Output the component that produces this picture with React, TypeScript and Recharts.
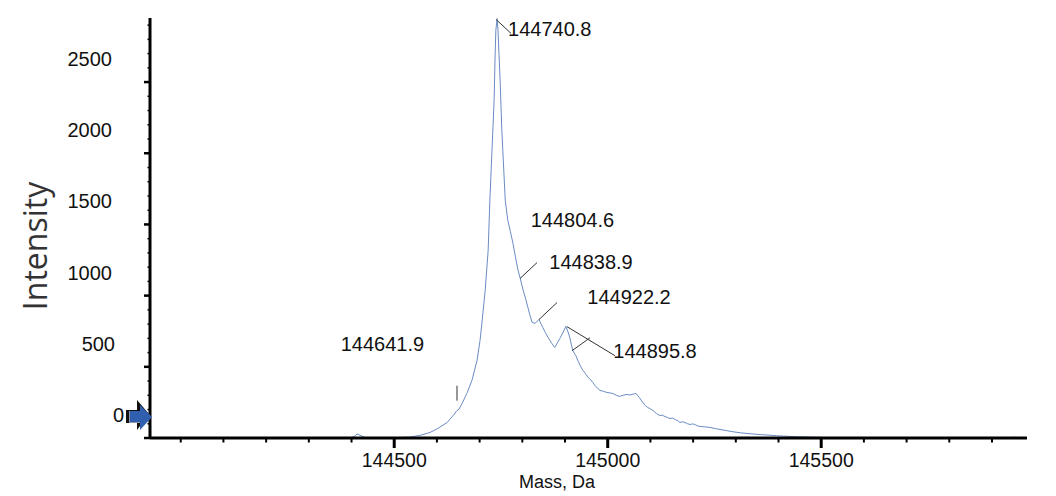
import React from 'react';
import { LineChart, Line, XAxis, YAxis, ReferenceLine, ReferenceDot } from 'recharts';

// deconvoluted spectrum
const massDa = [
  143940, 144396, 144406, 144413, 144422, 144434, 144467, 144502, 144537, 144560,
  144584, 144602, 144624, 144638, 144647, 144652, 144659, 144670, 144682, 144694,
  144701, 144706, 144713, 144720, 144724, 144729, 144734, 144736, 144738, 144741,
  144743, 144748, 144752, 144760, 144766, 144772, 144778, 144784, 144790, 144795,
  144802, 144808, 144813, 144818, 144823, 144830, 144839, 144844, 144848, 144854,
  144860, 144869, 144876, 144882, 144888, 144896, 144902, 144907, 144911, 144918,
  144925, 144930, 144936, 144942, 144948, 144954, 144960, 144965, 144972, 144982,
  144990, 144998, 145006, 145012, 145020, 145028, 145036, 145045, 145052, 145057,
  145062, 145066, 145074, 145082, 145088, 145094, 145100, 145106, 145114, 145122,
  145128, 145134, 145140, 145146, 145152, 145158, 145164, 145169, 145175, 145181,
  145187, 145193, 145199, 145204, 145210, 145216, 145228, 145240, 145252, 145263,
  145278, 145293, 145312, 145333, 145352, 145373, 145395, 145420, 145445, 145467,
  145495, 145525, 145560, 145600, 145700, 145800, 145880, 145910, 145930, 145950,
  145970, 145982,
];
const intensity = [
  0, 0, 10, 28, 17, 0, 0, 2, 7, 18,
  39, 67, 109, 158, 193, 204, 243, 313, 404, 545,
  686, 826, 1037, 1319, 1670, 2022, 2373, 2655, 2865, 2945,
  2865, 2514, 2162, 1670, 1529, 1450, 1368, 1270, 1178, 1122,
  1037, 975, 918, 860, 812, 805, 833, 800, 777, 740,
  707, 665, 636, 668, 700, 745, 784, 745, 707, 615,
  580, 545, 505, 475, 452, 425, 410, 390, 362, 334,
  328, 320, 316, 313, 300, 292, 300, 306, 302, 306,
  310, 313, 285, 250, 228, 214, 205, 193, 172, 158,
  160, 151, 144, 137, 140, 130, 122, 109, 114, 109,
  100, 95, 99, 95, 86, 81, 78, 74, 66, 60,
  52, 44, 36, 30, 25, 21, 16, 12, 9, 7,
  5, 3, 1, 0, 0, 2, 0, 4, 1, 5,
  2, 0,
];

const xTicks = [
  144000, 144100, 144200, 144300, 144400, 144500, 144600, 144700, 144800, 144900,
  145000, 145100, 145200, 145300, 145400, 145500, 145600, 145700, 145800, 145900,
];
const yTicks = [
  0, 100, 200, 300, 400, 500, 600, 700, 800, 900, 1000, 1100, 1200, 1300, 1400,
  1500, 1600, 1700, 1800, 1900, 2000, 2100, 2200, 2300, 2400, 2500, 2600, 2700, 2800, 2900,
];
const yLabels = [0, 500, 1000, 1500, 2000, 2500];
const xLabels = [144500, 145000, 145500];

// peak annotations: text, anchor (mass, intensity) of the text start
const peakText = ['144740.8', '144804.6', '144838.9', '144922.2', '144895.8', '144641.9'];
const peakTextMass = [144766.5, 144819.6, 144863.2, 144952.2, 145013.1, 144374.6];
const peakTextInt = [2824, 1480, 1186, 940, 565, 612];

// leader lines: [mass1, int1, mass2, int2]
const leaders = [
  [144738.4, 2940, 144773.5, 2842],
  [144794.6, 1120, 144834.4, 1232],
  [144839.1, 832, 144881.2, 951],
  [144904.6, 782, 145017.0, 578],
  [144916.3, 613, 144958.5, 704],
  [144647.0, 367, 144647.0, 262],
];

const data = massDa.map((m, i) => ({ mass: m, value: intensity[i] }));

const FONT = '"Liberation Sans", Arial, sans-serif';

const XTick = (props: any) => {
  const { x, y, payload } = props;
  const major = xLabels.includes(payload.value);
  return (
    <g>
      <line x1={x} y1={y} x2={x} y2={y + (major ? 10 : 4.5)} stroke="#000" strokeWidth={major ? 3 : 2} />
      {major && (
        <text x={x} y={y + 29} textAnchor="middle" fontFamily={FONT} fontSize={19.5} fill="#111">
          {payload.value}
        </text>
      )}
    </g>
  );
};

const YTick = (props: any) => {
  const { x, y, payload } = props;
  const v = payload.value;
  const major = v % 500 === 0;
  const labelled = yLabels.includes(v);
  const endX = v >= 1000 ? 112 : v === 500 ? 115 : 124;
  return (
    <g>
      <line x1={x - (major ? 6 : 2.5)} y1={y} x2={x} y2={y} stroke="#000" strokeWidth={major ? 2.5 : 1.5} />
      {labelled && (
        <text x={endX} y={y - 16} textAnchor="end" fontFamily={FONT} fontSize={20} fill="#111">
          {v}
        </text>
      )}
      {v === 0 && (
        <g>
          <rect x={x - 24} y={y - 28} width={12} height={13} fill="#111" />
          <polygon points={`${x - 13},${y - 38} ${x - 1},${y - 24} ${x - 13},${y - 8}`} fill="#111" />
          <rect x={x - 21} y={y - 27} width={12} height={12} fill="#8a93a3" />
          <rect x={x - 20} y={y - 27} width={11} height={11} fill="#2f5fae" />
          <polygon points={`${x - 10},${y - 33} ${x + 2},${y - 21} ${x - 10},${y - 8}`} fill="#2f5fae" />
        </g>
      )}
    </g>
  );
};

const AxisTitle = (props: any) => {
  const { viewBox } = props;
  return (
    <text x={557} y={viewBox.y + 50} textAnchor="middle" fontFamily={FONT} fontSize={18} fill="#111">
      Mass, Da
    </text>
  );
};

export default function App() {
  return (
    <div style={{ position: 'absolute', left: 0, top: 0, background: '#fff' }}>
      <LineChart width={1056} height={496} data={data} margin={{ top: 18, right: 29, bottom: 0, left: 0 }}>
        <XAxis
          type="number"
          dataKey="mass"
          domain={[143928, 145982]}
          allowDataOverflow
          ticks={xTicks}
          interval={0}
          tick={<XTick />}
          tickLine={false}
          tickSize={0}
          tickMargin={0}
          axisLine={{ stroke: '#000', strokeWidth: 3 }}
          height={58}
          label={<AxisTitle />}
        />
        <YAxis
          type="number"
          domain={[0, 2950]}
          allowDataOverflow
          ticks={yTicks}
          interval={0}
          tick={<YTick />}
          tickLine={false}
          tickSize={0}
          tickMargin={0}
          axisLine={{ stroke: '#000', strokeWidth: 3 }}
          width={150}
        />
        <Line
          type="linear"
          dataKey="value"
          stroke="#6a8cc4"
          strokeWidth={1}
          dot={false}
          isAnimationActive={false}
        />
        {leaders.map((l, i) => (
          <ReferenceLine
            key={`ld-${i}`}
            segment={[{ x: l[0], y: l[1] }, { x: l[2], y: l[3] }]}
            stroke="#333"
            strokeWidth={1}
            ifOverflow="visible"
          />
        ))}
        {peakText.map((t, i) => (
          <ReferenceDot
            key={`pk-${i}`}
            x={peakTextMass[i]}
            y={peakTextInt[i]}
            r={0}
            ifOverflow="visible"
            shape={(p: any) => (
              <text x={p.cx} y={p.cy} fontFamily={FONT} fontSize={20} fill="#111">
                {t}
              </text>
            )}
          />
        ))}
      </LineChart>
      <svg
        width={80}
        height={300}
        style={{ position: 'absolute', left: 0, top: 100, pointerEvents: 'none' }}
      >
        <text
          x={47}
          y={146}
          transform="rotate(-90 47 146)"
          textAnchor="middle"
          fontFamily='"Open Sans", sans-serif'
          fontSize={32}
          fill="#333"
        >
          Intensity
        </text>
      </svg>
    </div>
  );
}
